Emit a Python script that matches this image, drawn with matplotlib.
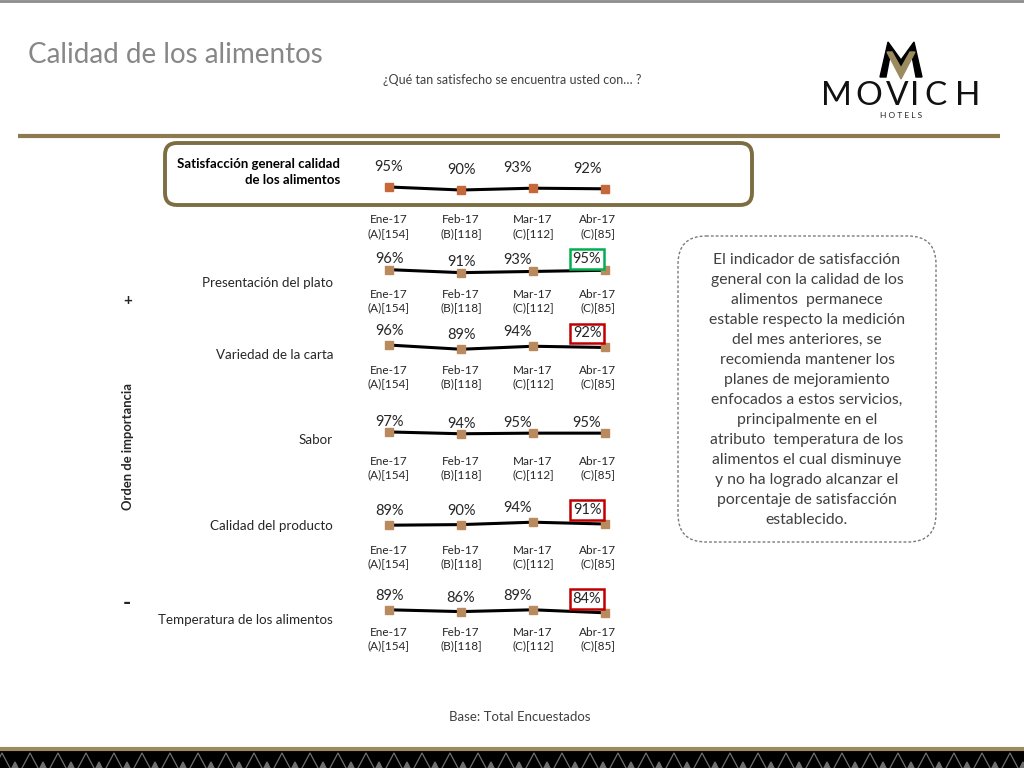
import matplotlib
matplotlib.use('Agg')
import matplotlib.pyplot as plt
from matplotlib.patches import FancyBboxPatch, Rectangle, Polygon
import numpy as np

plt.rcParams['font.family'] = ['Lato', 'DejaVu Sans']

# data
months = ['Ene-17', 'Feb-17', 'Mar-17', 'Abr-17']
bases = ['(A)[154]', '(B)[118]', '(C)[112]', '(C)[85]']
attributes = ['Satisfacción general calidad\nde los alimentos',
              'Presentación del plato', 'Variedad de la carta', 'Sabor',
              'Calidad del producto', 'Temperatura de los alimentos']
general = [95, 90, 93, 92]
presentacion = [96, 91, 93, 95]
variedad = [96, 89, 94, 92]
sabor = [97, 94, 95, 95]
calidad = [89, 90, 94, 91]
temperatura = [89, 86, 89, 84]
series = [general, presentacion, variedad, sabor, calidad, temperatura]

comment = ('El indicador de satisfacción\ngeneral con la calidad de los\n'
           'alimentos  permanece\nestable respecto la medición\n'
           'del mes anteriores, se\nrecomienda mantener los\n'
           'planes de mejoramiento\nenfocados a estos servicios,\n'
           'principalmente en el\natributo  temperatura de los\n'
           'alimentos el cual disminuye\ny no ha logrado alcanzar el\n'
           'porcentaje de satisfacción\nestablecido.')

# layout (pixels on a 1024x768 slide)
W, H = 1024, 768
row_y = [188.5, 271, 347, 433, 524, 611]
label_dy = [20, 11, 14, 10, 14, 14]
month_dy = [38, 30, 30, 35, 33, 28]
name_y = [172, 283, 355, 440, 526, 620]
label_dx = [0, 0, -15, -18]
month_dx = [0, 0, 0, -7]
box_colors = {1: '#00B050', 2: '#C00000', 4: '#C00000', 5: '#C00000'}
gold = '#8C7B50'
txt = '#262626'

fig = plt.figure(figsize=(10.24, 7.68), dpi=100)
bg = fig.add_axes([0, 0, 1, 1])
bg.set_xlim(0, W)
bg.set_ylim(H, 0)
bg.axis('off')

# header
bg.plot([0, W], [1, 1], color='#8c8c8c', lw=2)
bg.text(28, 55, 'Calidad de los alimentos', fontsize=20, color='#878787',
        va='center', ha='left')
bg.text(512, 80, '¿Qué tan satisfecho se encuentra usted con… ?', fontsize=9,
        color='#404040', va='center', ha='center')
bg.plot([18, 1000], [136, 136], color=gold, lw=3, solid_capstyle='butt')

# logo
bg.add_patch(Polygon([(880, 77), (888, 42), (901, 60), (914, 42), (922, 77),
                      (916, 77), (912, 56), (901, 70), (890, 56), (886, 77)],
                     closed=True, color='black'))
bg.add_patch(Polygon([(887, 52), (901, 79), (915, 52), (910, 52), (901, 68),
                      (892, 52)], closed=True, color='#9C8B5E'))
for ch, cx in zip('MOVICH', [836, 869, 897, 915, 936, 968]):
    bg.text(cx, 96, ch, fontsize=24, ha='center', va='center', color='#111111')
bg.text(901, 115, 'H O T E L S', fontsize=6, ha='center', va='center',
        color='#222222')

# box around the general indicator
bg.add_patch(FancyBboxPatch((165, 143), 587, 62,
                            boxstyle='round,pad=0,rounding_size=12',
                            fc='none', ec='#7D6E42', lw=2.8))

# row names
bg.text(340, 172, attributes[0], fontsize=9.5, fontweight='bold', color='black',
        ha='right', va='center', linespacing=1.35, multialignment='right')
for name, y in zip(attributes[1:], name_y[1:]):
    bg.text(333, y, name, fontsize=9.6, color=txt, ha='right', va='center')

bg.text(128, 446, 'Orden de importancia', rotation=90, fontsize=9.4,
        fontweight='bold', color=txt, ha='center', va='center')
bg.text(128, 301, '+', fontsize=11, fontweight='bold', color=txt,
        ha='center', va='center')
bg.text(127, 604, '-', fontsize=16, fontweight='bold', color=txt,
        ha='center', va='center')

# comment box
bg.add_patch(FancyBboxPatch((678, 236), 258, 306,
                            boxstyle='round,pad=0,rounding_size=28',
                            fc='none', ec='#7a7a7a', lw=1, ls=(0, (2, 1.5))))
bg.text(807, 390, comment, fontsize=11.3, color='#404040', ha='center',
        va='center', linespacing=1.55)

bg.text(520, 717, 'Base: Total Encuestados', fontsize=9.5, color='#404040',
        ha='center', va='center')

# footer band
bg.plot([0, W], [748.5, 748.5], color='#9C8B5E', lw=3, solid_capstyle='butt')
bg.add_patch(Rectangle((0, 750), W, 18, color='black'))
for x0 in np.arange(-6, W, 28):
    bg.plot([x0, x0 + 8, x0 + 16], [768, 753, 768], color='#6e6e6e', lw=0.9)
    bg.add_patch(Polygon([(x0 + 18, 768), (x0 + 21, 762), (x0 + 24, 768)],
                         closed=True, color='#6e6e6e'))

# the six small line charts
x_left, x_right = 389, 605
idx = np.arange(len(months))
for r, vals in enumerate(series):
    yc = row_y[r]
    ax = fig.add_axes([x_left / W, 1 - (yc + 30) / H,
                       (x_right - x_left) / W, 60 / H])
    mid = np.mean(vals)
    ax.set_xlim(0, 3)
    ax.set_ylim(mid - 50, mid + 50)
    ax.axis('off')
    mcol = '#C5683A' if r == 0 else '#B98A5E'
    ax.plot(idx, vals, color='black', lw=2.2, zorder=2, clip_on=False)
    ax.plot(idx, vals, ls='none', marker='s', ms=6, mfc=mcol, mec=mcol,
            zorder=3, clip_on=False)
    for i, v in enumerate(vals):
        bbox = None
        if i == 3 and r in box_colors:
            bbox = dict(boxstyle='square,pad=0.2', fc='white',
                        ec=box_colors[r], lw=1.8)
        ax.annotate(f'{v}%', (i, v), xytext=(label_dx[i], label_dy[r]),
                    textcoords='offset pixels', ha='center', va='center',
                    fontsize=10.5, color=txt, bbox=bbox,
                    annotation_clip=False)
        ax.annotate(f'{months[i]}\n{bases[i]}', (i, mid),
                    xytext=(month_dx[i], -month_dy[r]),
                    textcoords='offset pixels', ha='center', va='center',
                    fontsize=8.5, color=txt, linespacing=1.3,
                    annotation_clip=False)

fig.savefig('out.png', dpi=100)
